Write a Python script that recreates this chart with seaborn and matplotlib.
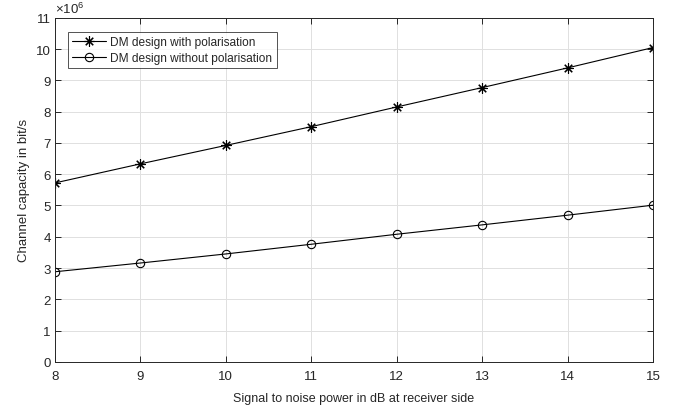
import numpy as np
import matplotlib
matplotlib.use('Agg')
import matplotlib.pyplot as plt
import pandas as pd
import seaborn as sns

snr_db = [8, 9, 10, 11, 12, 13, 14, 15]
cap_with_pol = [5.72, 6.33, 6.92, 7.52, 8.15, 8.77, 9.40, 10.05]
cap_without_pol = [2.88, 3.16, 3.45, 3.76, 4.08, 4.38, 4.69, 5.01]
labels = ['DM design with polarisation', 'DM design without polarisation']

sns.set_theme(style='whitegrid')
plt.rcParams['font.family'] = ['Liberation Sans', 'DejaVu Sans']
plt.rcParams['mathtext.fontset'] = 'custom'
plt.rcParams['mathtext.rm'] = 'Liberation Sans'

fig, ax = plt.subplots(figsize=(6.76, 4.10), dpi=100)
fig.subplots_adjust(left=0.081, right=0.966, top=0.954, bottom=0.115)

# matlab-ish asterisk (+ and x) and open circle
series = [(cap_with_pol, (8, 2, 0), 7.5), (cap_without_pol, 'o', 6)]
for (vals, mk, ms), lab in zip(series, labels):
    sns.lineplot(x=snr_db, y=np.array(vals) * 1e6, color='black', marker=mk,
                 linewidth=0.8, markersize=ms, markerfacecolor='none',
                 markeredgecolor='black', markeredgewidth=0.8, label=lab, ax=ax)

ax.set_xlim(8, 15)
ax.set_ylim(0, 11e6)
ax.set_xticks(range(8, 16))
ax.set_yticks(np.arange(0, 12) * 1e6)
ax.set_yticklabels([str(i) for i in range(12)])
ax.text(0, 1.006, r'$\times10^6$', transform=ax.transAxes, fontsize=9.5,
        color='#262626', va='bottom', ha='left')

ax.grid(True, color='#e0e0e0', linewidth=0.7)
for s in ax.spines.values():
    s.set_color('#262626')
    s.set_linewidth(0.7)
ax.tick_params(direction='in', length=4.5, width=0.7, colors='#262626',
               labelsize=9.5, top=True, right=True, left=True, bottom=True, pad=3)
ax.tick_params(axis='x', pad=6)
ax.set_xlabel('Signal to noise power in dB at receiver side', fontsize=9, color='#262626',
              labelpad=7)
ax.set_ylabel('Channel capacity in bit/s', fontsize=9.5, color='#262626', labelpad=4)

leg = ax.legend(loc='upper left', bbox_to_anchor=(0.022, 0.96), fontsize=8.6,
                frameon=True, fancybox=False, edgecolor='#262626',
                handlelength=2.8, handletextpad=0.4, borderpad=0.35, labelspacing=0.35,
                borderaxespad=0)
leg.get_frame().set_linewidth(0.7)
for h in leg.legend_handles:
    h.set_markerfacecolor('none')
    h.set_markeredgecolor('black')

plt.savefig('out.png', dpi=100)
